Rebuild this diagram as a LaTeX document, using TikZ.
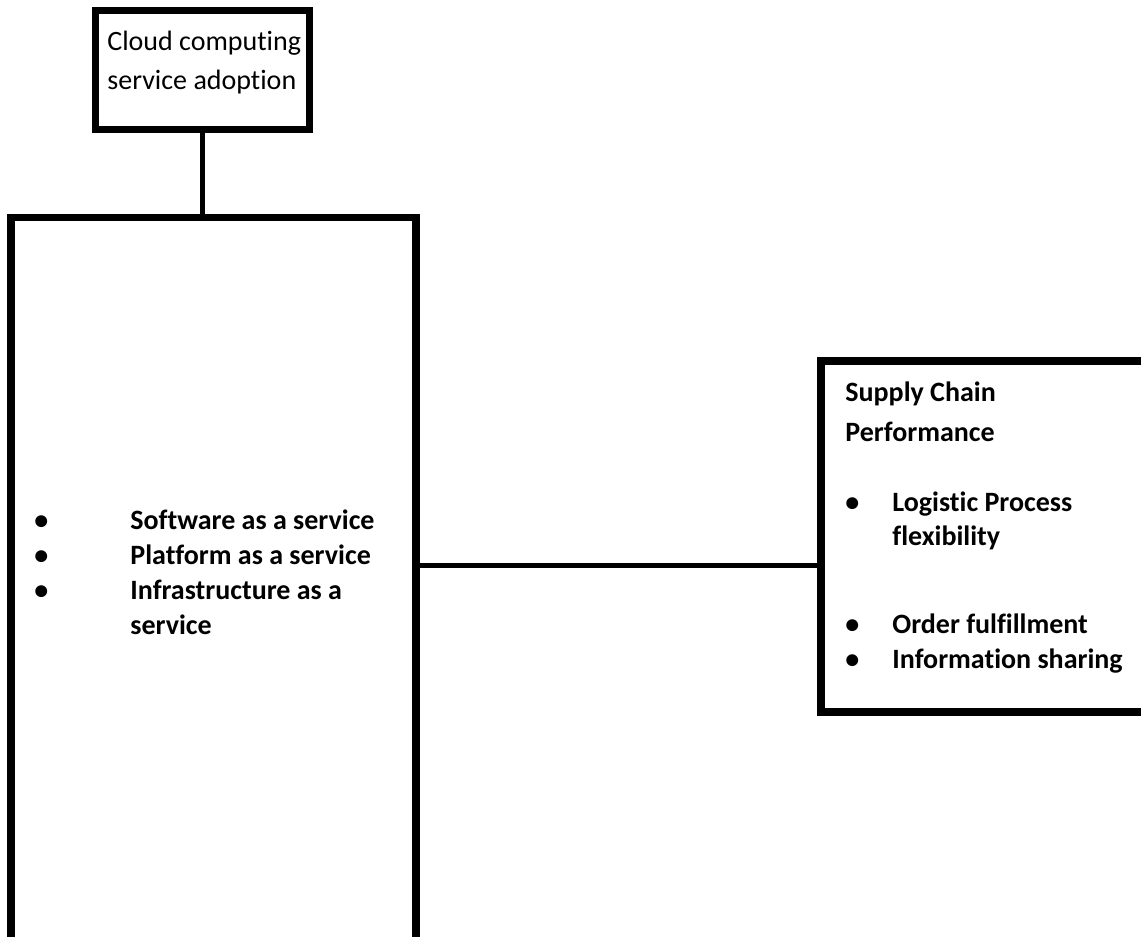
\documentclass[tikz,border=0pt]{standalone}
\usepackage{fontspec}
\setmainfont{Carlito}[Ligatures=NoCommon]
\usetikzlibrary{positioning}
\tikzstyle{box} = [draw, line width=3.75pt, inner sep=0pt, outer sep=0pt]
\tikzstyle{wire} = [line width=2.5pt]
\tikzstyle{txt} = [anchor=base west, inner sep=0pt, font=\fontsize{14}{17}\selectfont]
\tikzstyle{itemtxt} = [anchor=base west, inner sep=0pt, font=\fontsize{14}{17}\selectfont\bfseries]

\begin{document}
\begin{tikzpicture}[x=0.5pt, y=-0.5pt]
\useasboundingbox (0,0) rectangle (1141,937);
\clip (0,0) rectangle (1141,937);

% Boxes
\node[box, minimum width=107pt, minimum height=59.5pt] (adoption) at (202.5,70) {};
\node[box, minimum width=202.5pt, minimum height=391.25pt] (services) at (213.5,608.75) {};
\node[box, minimum width=174.5pt, minimum height=175.5pt] (performance) at (995.5,536.5) {};

% Connectors
\coordinate (mid) at (0,565);
\draw[wire] (adoption.south) -- (adoption.south |- services.north);
\draw[wire] (services.east |- mid) -- (performance.west |- mid);

% Top box text
\node[txt] (cloud) at (107,50) {Cloud computing};
\node[txt] (adopt) at (107,89) {service adoption};

% Service models
\node[itemtxt] (b1) at (34,529) {•};
\node[itemtxt] (b2) at (34,564) {•};
\node[itemtxt] (b3) at (34,599) {•};
\node[itemtxt] (saas) at (130,529) {Software as a service};
\node[itemtxt] (paas) at (130,564) {Platform as a service};
\node[itemtxt] (iaas) at (130,599) {Infrastructure as a};
\node[itemtxt] (iaas2) at (130,634) {service};

% Performance measures
\node[itemtxt] (scp) at (845,401) {Supply Chain};
\node[itemtxt] (scp2) at (845,441) {Performance};
\node[itemtxt] (b4) at (845,511) {•};
\node[itemtxt] (lpf) at (892,511) {Logistic Process};
\node[itemtxt] (lpf2) at (892,545) {flexibility};
\node[itemtxt] (b5) at (845,633) {•};
\node[itemtxt] (b6) at (845,668) {•};
\node[itemtxt] (ofl) at (892,633) {Order fulfillment};
\node[itemtxt] (ish) at (892,668) {Information sharing};
\end{tikzpicture}
\end{document}
